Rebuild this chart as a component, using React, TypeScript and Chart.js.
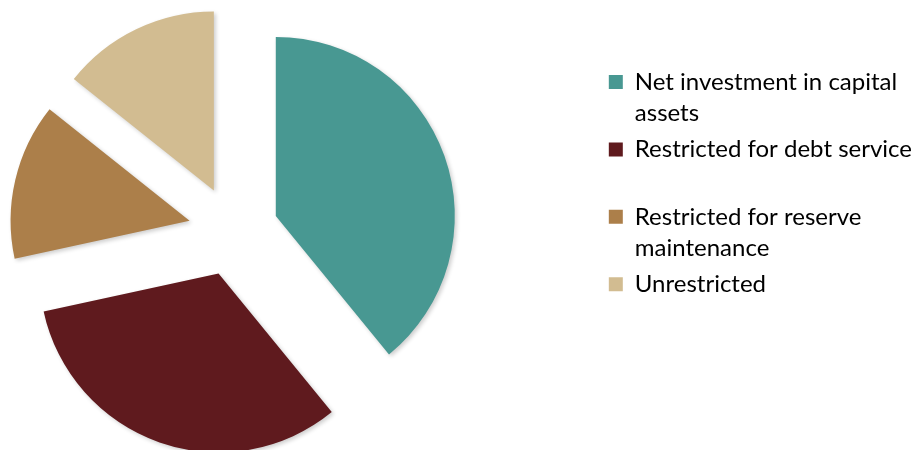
import React, { useEffect, useRef } from 'react';
import { Chart, registerables, layouts } from 'chart.js';

Chart.register(...registerables);

// Categories (legend labels, wrapped as in the reference)
const categories: string[][] = [
  ['Net investment in capital', 'assets'],
  ['Restricted for debt service', ''],
  ['Restricted for reserve', 'maintenance'],
  ['Unrestricted'],
];

// Share of net position (percent)
const values: number[] = [39.1, 32.5, 14.1, 14.3];

const colors: string[] = ['#489892', '#5F1A1E', '#AC7F4A', '#D2BC91'];

// Explodes every slice outward along its bisector (Excel-style exploded pie)
const explodePlugin = {
  id: 'explode',
  afterDatasetUpdate(chart: any, args: any, opts: any) {
    const d = (opts && opts.distance) || 0;
    args.meta.data.forEach((arc: any) => {
      const mid = (arc.startAngle + arc.endAngle) / 2;
      arc.x += Math.cos(mid) * d;
      arc.y += Math.sin(mid) * d;
    });
  },
  beforeDatasetDraw(chart: any) {
    const ctx = chart.ctx;
    ctx.save();
    ctx.shadowColor = 'rgba(0,0,0,0.2)';
    ctx.shadowBlur = 4;
    ctx.shadowOffsetX = 2;
    ctx.shadowOffsetY = 2;
  },
  afterDatasetDraw(chart: any) {
    chart.ctx.restore();
  },
};

// Empty layout box between the plot area and the legend
const spacerPlugin = {
  id: 'spacer',
  beforeInit(chart: any, _args: any, opts: any) {
    const w = (opts && opts.width) || 0;
    const box: any = {
      position: 'right',
      weight: 10,
      fullSize: false,
      options: {},
      width: 0,
      height: 0,
      left: 0,
      top: 0,
      right: 0,
      bottom: 0,
      isHorizontal() {
        return false;
      },
      update(_maxWidth: number, maxHeight: number) {
        box.width = w;
        box.height = maxHeight;
      },
      draw() {},
    };
    layouts.addBox(chart, box);
  },
};

export default function App() {
  const canvasRef = useRef<HTMLCanvasElement | null>(null);

  useEffect(() => {
    if (!canvasRef.current) return;
    const chart = new Chart(canvasRef.current, {
      type: 'pie',
      data: {
        labels: categories as any,
        datasets: [
          {
            data: values,
            backgroundColor: colors,
            borderWidth: 0,
            offset: 0,
            hoverOffset: 0,
            clip: false as any,
          } as any,
        ],
      },
      options: {
        responsive: false,
        animation: false,
        devicePixelRatio: 1,
        events: [],
        layout: {
          padding: { top: 52, bottom: 40, left: 0, right: 0 },
        },
        plugins: {
          explode: { distance: 45 },
          spacer: { width: 137 },
          tooltip: { enabled: false },
          legend: {
            position: 'right',
            align: 'start',
            maxWidth: 340,
            title: {
              display: true,
              text: '',
              padding: 0,
              font: { size: 13, lineHeight: 1 },
            },
            labels: {
              boxWidth: 14,
              boxHeight: 14,
              padding: 5,
              color: '#000000',
              font: { family: 'Lato', size: 24, lineHeight: 1.3 },
            },
          },
        } as any,
      },
      plugins: [explodePlugin, spacerPlugin],
    });
    return () => chart.destroy();
  }, []);

  return (
    <div style={{ position: 'absolute', left: 0, top: 0, width: 922, height: 450, background: '#ffffff' }}>
      <canvas ref={canvasRef} width={922} height={450} style={{ width: 922, height: 450, display: 'block' }} />
    </div>
  );
}
